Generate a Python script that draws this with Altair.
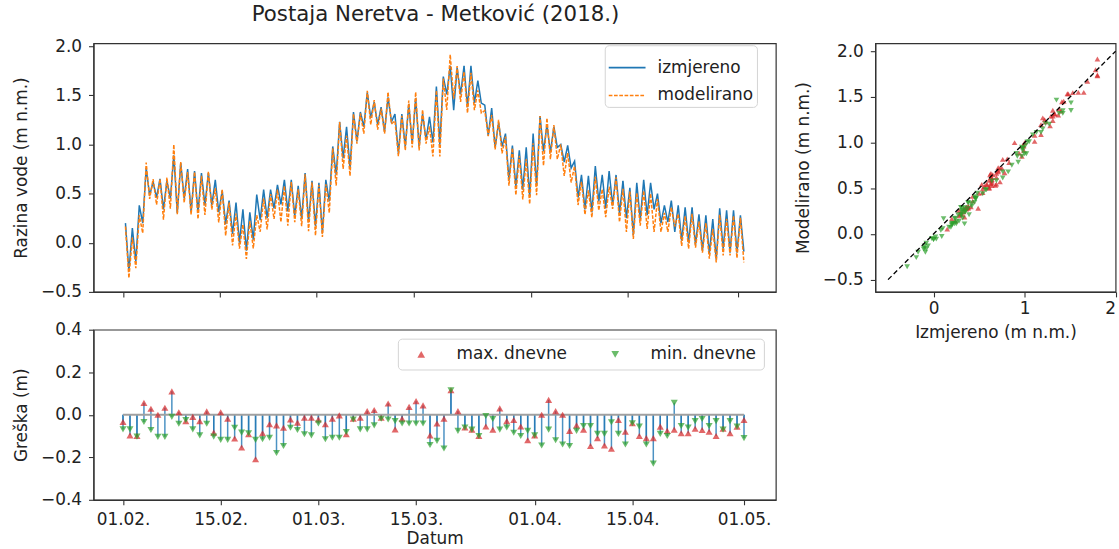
import altair as alt
import pandas as pd

NASLOV = "Postaja Neretva - Metković (2018.)"
POCETAK = "2018-02-01"

# Daily extremes of the measured water level (m n.m.), 01.02. - 01.05.2018.
izmjereno_max = [
    0.20, 0.15, 0.38, 0.76, 0.62, 0.65, 0.63, 0.89, 0.81, 0.75,
    0.73, 0.71, 0.71, 0.64, 0.53, 0.43, 0.41, 0.34, 0.31, 0.49,
    0.54, 0.54, 0.59, 0.64, 0.64, 0.58, 0.71, 0.63, 0.61, 0.64,
    0.98, 1.23, 1.18, 1.33, 1.33, 1.53, 1.43, 1.38, 1.48, 1.31,
    1.31, 1.41, 1.47, 1.31, 1.28, 1.59, 1.69, 1.80, 1.78, 1.80,
    1.80, 1.65, 1.40, 1.37, 1.22, 1.11, 0.99, 0.94, 0.97, 1.11,
    1.29, 1.20, 1.18, 1.00, 0.99, 0.83, 0.69, 0.68, 0.78, 0.69,
    0.73, 0.69, 0.63, 0.56, 0.61, 0.64, 0.61, 0.50, 0.38, 0.43,
    0.38, 0.36, 0.36, 0.29, 0.28, 0.24, 0.35, 0.33, 0.33, 0.28,
]
izmjereno_min = [
    -0.29, -0.19, 0.20, 0.48, 0.46, 0.34, 0.45, 0.30, 0.45, 0.31,
    0.31, 0.38, 0.38, 0.31, 0.19, 0.09, 0.00, -0.08, 0.03, 0.23,
    0.25, 0.35, 0.39, 0.32, 0.27, 0.24, 0.21, 0.17, 0.10, 0.42,
    0.69, 0.86, 0.76, 1.03, 1.18, 1.27, 1.20, 1.13, 1.23, 0.91,
    0.98, 1.01, 0.98, 1.05, 1.02, 1.00, 1.51, 1.35, 1.51, 1.38,
    1.42, 1.42, 1.09, 0.97, 0.98, 0.64, 0.57, 0.54, 0.47, 0.58,
    0.93, 0.92, 0.97, 0.82, 0.76, 0.46, 0.34, 0.31, 0.42, 0.35,
    0.38, 0.30, 0.25, 0.08, 0.23, 0.28, 0.34, 0.20, 0.21, 0.11,
    0.02, 0.00, -0.02, -0.08, -0.11, -0.17, -0.06, -0.10, -0.10, -0.09,
]
# Model error (modelled - measured) of the daily maximum and minimum, in m.
greska_max = [
    -0.034, -0.097, -0.100, 0.056, 0.028, 0.000, 0.033, 0.110, 0.012, -0.030,
    -0.010, -0.030, 0.016, -0.084, 0.012, -0.019, -0.112, -0.154, -0.092, -0.209,
    -0.087, -0.045, -0.050, -0.061, -0.022, -0.037, -0.014, -0.014, -0.022, -0.045,
    -0.019, -0.003, -0.092, -0.019, -0.014, 0.017, 0.022, -0.014, 0.053, -0.069,
    -0.019, 0.037, 0.064, 0.044, -0.097, -0.041, -0.019, 0.115, 0.017, -0.060,
    -0.070, -0.100, -0.055, -0.070, 0.030, -0.030, -0.025, -0.055, -0.120, -0.097,
    0.000, 0.070, 0.017, 0.000, -0.076, -0.050, -0.070, -0.147, -0.110, -0.145,
    -0.160, -0.025, -0.080, -0.040, -0.100, -0.110, -0.110, -0.056, -0.076, -0.070,
    -0.087, -0.087, -0.066, -0.072, -0.080, -0.100, -0.066, -0.087, -0.056, -0.025,
]
greska_min = [
    -0.069, -0.069, -0.103, -0.034, -0.072, -0.104, -0.104, -0.010, -0.042, -0.025,
    -0.069, -0.097, -0.042, -0.103, -0.118, -0.118, -0.061, -0.084, -0.087, -0.118,
    -0.115, -0.108, -0.180, -0.147, -0.061, -0.072, -0.092, -0.097, -0.041, -0.115,
    -0.108, -0.108, -0.081, -0.022, -0.069, -0.069, -0.050, -0.019, -0.022, -0.030,
    -0.041, -0.041, -0.041, -0.041, -0.142, -0.123, -0.159, 0.115, -0.076, -0.060,
    -0.070, -0.100, -0.006, -0.020, -0.070, -0.060, -0.085, -0.100, -0.076, -0.097,
    -0.145, -0.070, -0.120, -0.140, -0.147, -0.076, -0.053, -0.053, -0.090, -0.090,
    -0.035, -0.090, -0.140, -0.040, -0.056, -0.140, -0.230, -0.090, -0.100, 0.056,
    -0.053, -0.060, -0.030, -0.020, -0.053, -0.030, -0.070, -0.030, -0.056, -0.110,
]

SAT_MAX = 8    # hour at which the daily high is drawn
SAT_MIN = 20   # hour at which the daily low is drawn

SERIJE = ["izmjereno", "modelirano"]
TIPOVI = ["max. dnevne", "min. dnevne"]
DATUMI_OZNAKA = ["2018-02-01", "2018-02-15", "2018-03-01", "2018-03-15",
                 "2018-04-01", "2018-04-15", "2018-05-01"]
DIJAGONALA = [-0.5, 2.0]

FONT = "DejaVu Sans"
PLAVA, NARANCASTA = "#1f77b4", "#ff7f0e"
CRVENA, ZELENA = "#d62728", "#2ca02c"


def dt(ts):
    ts = pd.Timestamp(ts)
    return alt.DateTime(year=ts.year, month=ts.month, date=ts.day,
                        hours=ts.hour, minutes=ts.minute)


dani = pd.date_range(POCETAK, periods=len(izmjereno_max), freq="D")
oznake = [dt(d) for d in DATUMI_OZNAKA]

# level series: one high and one low per day
redovi = []
for d, hi, lo, eh, el in zip(dani, izmjereno_max, izmjereno_min, greska_max, greska_min):
    t_hi = d + pd.Timedelta(hours=SAT_MAX)
    t_lo = d + pd.Timedelta(hours=SAT_MIN)
    redovi += [
        {"vrijeme": t_hi, "razina": hi, "serija": SERIJE[0]},
        {"vrijeme": t_lo, "razina": lo, "serija": SERIJE[0]},
        {"vrijeme": t_hi, "razina": round(hi + eh, 3), "serija": SERIJE[1]},
        {"vrijeme": t_lo, "razina": round(lo + el, 3), "serija": SERIJE[1]},
    ]
razine = pd.DataFrame(redovi)

greske = pd.DataFrame(
    [{"datum": d, "greska": e, "tip": TIPOVI[0]} for d, e in zip(dani, greska_max)]
    + [{"datum": d, "greska": e, "tip": TIPOVI[1]} for d, e in zip(dani, greska_min)]
)
nula = pd.DataFrame({"od": [dani[0]], "do": [dani[-1]], "greska": [0.0]})

parovi = pd.DataFrame(
    [{"izmj": h, "model": round(h + e, 3), "tip": TIPOVI[0]}
     for h, e in zip(izmjereno_max, greska_max)]
    + [{"izmj": l, "model": round(l + e, 3), "tip": TIPOVI[1]}
       for l, e in zip(izmjereno_min, greska_min)]
)
dijagonala = pd.DataFrame({"izmj": DIJAGONALA, "model": DIJAGONALA})

# ---------------- water level panel ----------------
leg_razine = alt.Legend(
    title=None, orient="none", legendX=514, legendY=2,
    symbolType="stroke", symbolSize=1369, symbolStrokeWidth=1.6,
    labelFontSize=17, labelOffset=11, rowPadding=0, padding=3,
    fillColor="white", strokeColor="#d4d4d4", cornerRadius=4,
)
razina = alt.Chart(razine).mark_line(strokeWidth=1.5).encode(
    x=alt.X("vrijeme:T",
            scale=alt.Scale(domain=[dt("2018-01-27 17:00"), dt("2018-05-06 11:00")]),
            axis=alt.Axis(values=oznake, labels=False, title=None)),
    y=alt.Y("razina:Q", scale=alt.Scale(domain=[-0.5, 2.03]),
            axis=alt.Axis(values=[-0.5, 0.0, 0.5, 1.0, 1.5, 2.0], format=".1f",
                          title="Razina vode (m n.m.)")),
    color=alt.Color("serija:N", scale=alt.Scale(domain=SERIJE, range=[PLAVA, NARANCASTA]),
                    legend=leg_razine),
    strokeDash=alt.StrokeDash("serija:N",
                              scale=alt.Scale(domain=SERIJE, range=[[1, 0], [3.7, 1.6]]),
                              legend=leg_razine),
).properties(width=686, height=250)

# ---------------- error panel ----------------
domena_greske = [dt("2018-01-27 18:30"), dt("2018-05-05 13:30")]
x_greske = alt.X("datum:T", scale=alt.Scale(domain=domena_greske),
                 axis=alt.Axis(values=oznake, format="%d.%m.", title="Datum",
                               labelPadding=7, titlePadding=3))
y_greske = alt.Y("greska:Q", scale=alt.Scale(domain=[-0.4, 0.4]),
                 axis=alt.Axis(values=[-0.4, -0.2, 0.0, 0.2, 0.4], format=".1f",
                               title="Greška (m)"))

stabljike = alt.Chart(greske).mark_rule(color=PLAVA, strokeWidth=1.5, opacity=0.8).encode(
    x=x_greske, y=y_greske, y2=alt.datum(0))
osnovica = alt.Chart(nula).mark_rule(color="#a0a0a0", strokeWidth=2).encode(
    x=alt.X("od:T", scale=alt.Scale(domain=domena_greske)), x2="do:T", y="greska:Q")
leg_greske = alt.Legend(
    title=None, orient="none", legendX=306, legendY=9, direction="horizontal",
    labelFontSize=17, labelOffset=27, columnPadding=31, padding=7,
    symbolOffset=8, symbolSize=60, symbolOpacity=0.7,
    fillColor="white", strokeColor="#d4d4d4", cornerRadius=4,
)
tocke = alt.Chart(greske).mark_point(filled=True, size=50, opacity=0.7).encode(
    x=x_greske, y=y_greske,
    color=alt.Color("tip:N", scale=alt.Scale(domain=TIPOVI, range=[CRVENA, ZELENA]),
                    legend=leg_greske),
    shape=alt.Shape("tip:N", scale=alt.Scale(domain=TIPOVI,
                                             range=["triangle-up", "triangle-down"]),
                    legend=leg_greske),
)
greska = alt.layer(stabljike, osnovica, tocke).properties(width=686, height=171)

lijevo = alt.vconcat(razina, greska, spacing=19).resolve_scale(
    color="independent", strokeDash="independent", shape="independent")

# ---------------- scatter panel ----------------
x_sc = alt.X("izmj:Q", scale=alt.Scale(domain=[-0.64, 2.0]),
             axis=alt.Axis(values=[0, 1, 2], format="d", title="Izmjereno (m n.m.)",
                           labelFlush=True, labelPadding=4, titlePadding=8))
y_sc = alt.Y("model:Q", scale=alt.Scale(domain=[-0.634, 2.087]),
             axis=alt.Axis(values=[-0.5, 0.0, 0.5, 1.0, 1.5, 2.0], format=".1f",
                           title="Modelirano (m n.m.)"))
raspr = alt.Chart(parovi).mark_point(filled=True, size=32, opacity=0.7).encode(
    x=x_sc, y=y_sc,
    color=alt.Color("tip:N", scale=alt.Scale(domain=TIPOVI, range=[CRVENA, ZELENA]), legend=None),
    shape=alt.Shape("tip:N", scale=alt.Scale(domain=TIPOVI,
                                             range=["triangle-up", "triangle-down"]),
                    legend=None),
)
linija = alt.Chart(dijagonala).mark_line(color="black", strokeDash=[5, 3],
                                         strokeWidth=1.3).encode(x=x_sc, y=y_sc)
desno = alt.layer(raspr, linija).properties(width=241.6, height=250)

chart = alt.hconcat(lijevo, desno, spacing=17).resolve_scale(
    color="independent", strokeDash="independent", shape="independent"
).properties(
    title=alt.TitleParams(NASLOV, anchor="start", dx=241, fontSize=21.4, offset=11.5),
    padding={"left": 12, "top": 2, "right": 0, "bottom": 0},
).configure(font=FONT).configure_view(
    stroke="#333333", strokeWidth=1.2
).configure_axis(
    labelFont=FONT, titleFont=FONT, labelFontSize=17, titleFontSize=17,
    labelColor="#222222", titleColor="#222222", titleFontWeight="normal",
    tickColor="#333333", tickSize=5, tickWidth=1.1, domainColor="#333333",
    domainWidth=1.2, grid=False,
).configure_axisY(
    labelPadding=7, titlePadding=10,
).configure_legend(
    labelFont=FONT, labelColor="#222222",
).configure_title(
    font=FONT, fontWeight="normal", color="#222222",
)

chart.save("out.html", embed_options={"renderer": "svg", "actions": False})
